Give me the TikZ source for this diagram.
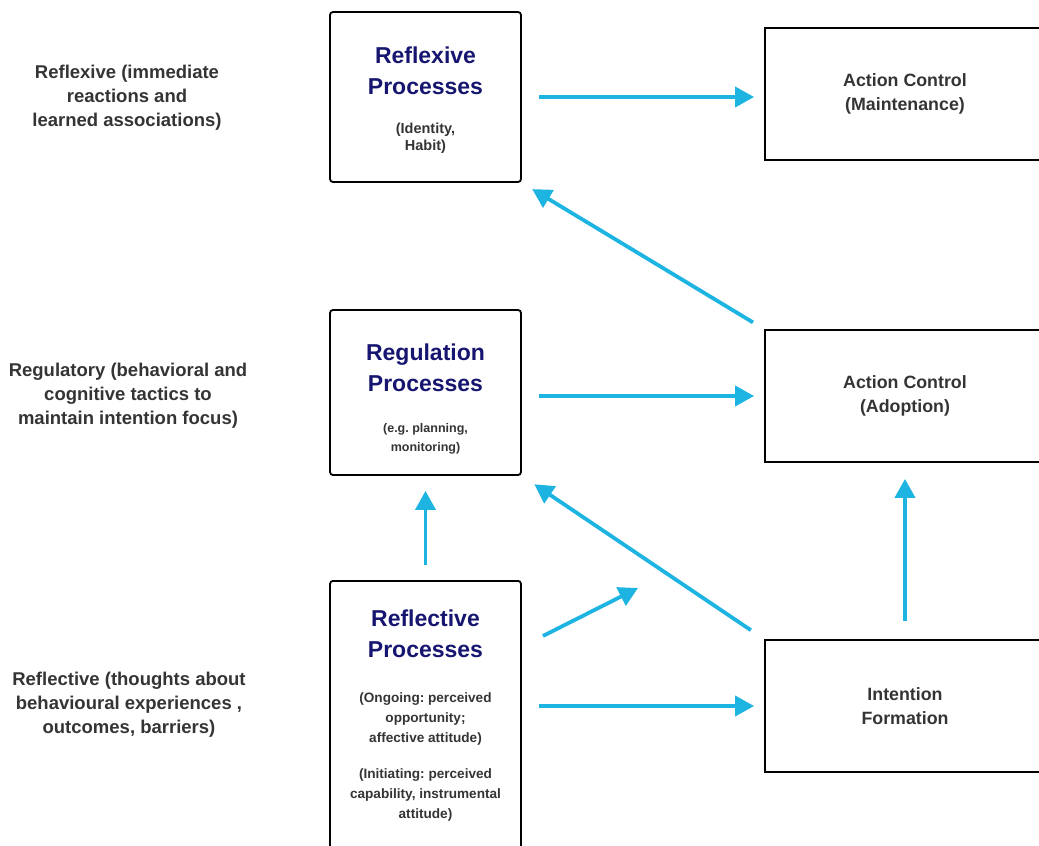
\documentclass[tikz,border=0pt]{standalone}
\usepackage{fontspec}
\setmainfont{Liberation Sans}
\usetikzlibrary{arrows.meta,calc}
\definecolor{flowblue}{RGB}{30,180,226}
\definecolor{titleblue}{RGB}{22,22,112}
\definecolor{labelgray}{RGB}{52,52,52}
\newcommand\proctitle{\color{titleblue}\fontsize{23}{31}\selectfont\strut}
\newcommand\procnote[2]{\fontsize{#1}{#2}\selectfont\strut}
\frenchspacing
\begin{document}
\begin{tikzpicture}[x=1pt,y=-1pt,
    procbox/.style={draw=black, line width=1.8pt, rounded corners=3pt,
        minimum width=191pt, align=center, inner sep=0pt, text=labelgray,
        font={\bfseries\fontsize{12}{0}\selectfont\lineskip=0pt\lineskiplimit=0pt}},
    ctrlbox/.style={draw=black, line width=1.8pt, minimum width=280pt,
        minimum height=132pt, align=center, text=labelgray,
        font=\bfseries\fontsize{17.8}{24}\selectfont},
    sidelabel/.style={align=center, text=labelgray,
        font=\bfseries\fontsize{18.5}{24}\selectfont},
    flow/.style={draw=flowblue, line width=3.8pt,
        -{Triangle[length=19pt,width=20pt]}}]
    \useasboundingbox (0,0) rectangle (1039,846);

    % process boxes
    \node[procbox, minimum height=170pt] (reflexive) at (425.5,97)
        {\proctitle\rule{0pt}{25.7pt}Reflexive\\\proctitle Processes\\[18pt]
         \procnote{14.5}{17}(Identity,\\\procnote{14.5}{17}Habit)};
    \node[procbox, minimum height=165pt] (regulation) at (425.5,392.5)
        {\proctitle\rule{0pt}{32.7pt}Regulation\\\proctitle Processes\\[18pt]
         \procnote{12.5}{19}(e.g. planning,\\\procnote{12.5}{19}monitoring)};
    \node[procbox, inner ysep=24pt, anchor=north] (reflective) at (425.5,580)
        {\proctitle Reflective\\\proctitle Processes\\[22pt]
         \procnote{13.6}{20}(Ongoing: perceived\\\procnote{13.6}{20}opportunity;\\
         \procnote{13.6}{20}affective attitude)\\[16pt]
         \procnote{13.6}{20}(Initiating: perceived\\\procnote{13.6}{20}capability, instrumental\\
         \procnote{13.6}{20}attitude)\rule[-20pt]{0pt}{1pt}};

    % control boxes
    \node[ctrlbox] (maint) at (905,94) {Action Control\\(Maintenance)};
    \node[ctrlbox] (adopt) at (905,396) {Action Control\\(Adoption)};
    \node[ctrlbox] (intent) at (905,706) {Intention\\Formation};

    % side labels
    \node[sidelabel] (lreflexive) at (127,98)
        {Reflexive (immediate\\reactions and\\learned associations)};
    \node[sidelabel] (lregulatory) at (128,396)
        {Regulatory (behavioral and\\cognitive tactics to\\maintain intention focus)};
    \node[sidelabel] (lreflective) at (129,705)
        {Reflective (thoughts about\\behavioural experiences ,\\outcomes, barriers)};

    % connectors
    \coordinate (mid) at (638,588);
    \draw[flow, shorten <=17pt, shorten >=10pt] (reflexive.east) -- (reflexive.east -| maint.west);
    \draw[flow, shorten <=17pt, shorten >=10pt] (adopt.west -| regulation.east) -- (adopt.west);
    \draw[flow, shorten <=17pt, shorten >=10pt] (reflective.east |- intent.west) -- (intent.west);
    \draw[flow, shorten <=13pt, shorten >=12pt] (adopt.north west) -- (reflexive.south east);
    \draw[flow, shorten <=16pt, shorten >=15pt] (intent.north west) -- (regulation.south east);
    \draw[flow, shorten <=15pt, shorten >=15pt] (reflective.north) -- (regulation.south);
    \draw[flow, shorten <=18pt, shorten >=16pt] (intent.north) -- (adopt.south);
    \draw[flow] ($(reflective.north east)+(21,56)$) -- (mid);
\end{tikzpicture}
\end{document}
